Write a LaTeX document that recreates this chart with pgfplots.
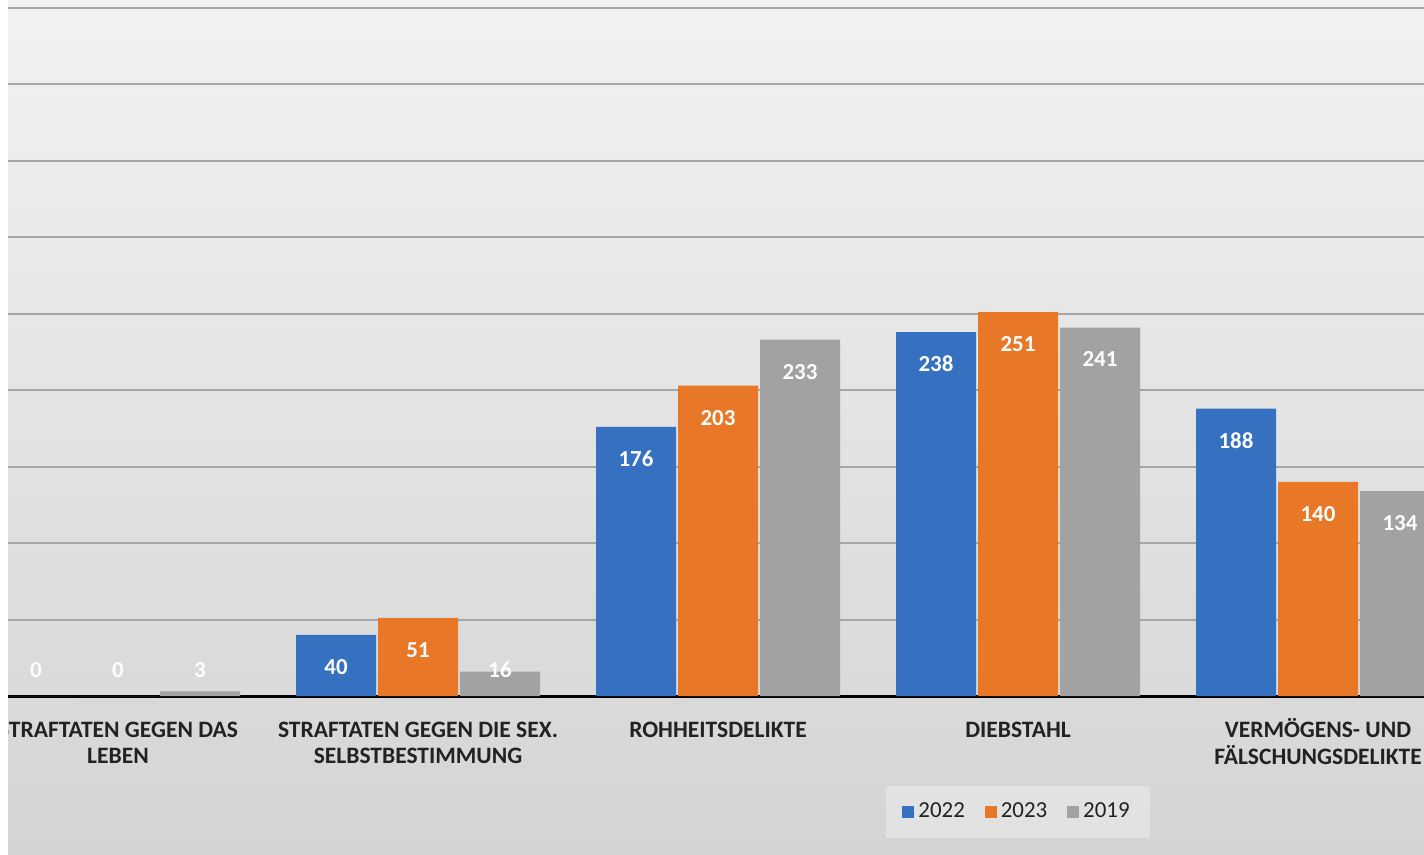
\documentclass[border=0pt]{standalone}
\usepackage{pgfplots}
\pgfplotsset{compat=1.18}
\usepackage{fontspec}
\setmainfont{Carlito}
\definecolor{cblue}{HTML}{3670C0}
\definecolor{corange}{HTML}{E87828}
\definecolor{cgray}{HTML}{A2A2A2}
\definecolor{ctext}{HTML}{222222}
\definecolor{cgrid}{HTML}{A6A6A6}
\definecolor{bgtop}{HTML}{F2F2F2}
\definecolor{bgbot}{HTML}{D4D4D4}
\definecolor{legbg}{HTML}{E2E2E2}
\newcommand\tl{\rule{0pt}{9.5bp}}
\pgfplotsset{
  mybar/.style={fill=#1, draw=none,
    legend image code/.code={\fill[#1] (0bp,-3bp) rectangle (6bp,3bp);}},
}
\begin{document}
\begin{tikzpicture}
\shade[top color=bgtop, bottom color=bgbot] (0,-79.5bp) rectangle (708bp,348bp);
\begin{axis}[
  at={(0,0)}, anchor=south west,
  scale only axis, width=708bp, height=348bp,
  xmin=-0.3667, xmax=4.3533, ymin=0, ymax=455.2,
  enlargelimits=false,
  ybar=1bp, bar width=40bp,
  axis x line*=bottom, axis y line*=left,
  x axis line style={black, line width=1.5bp, -},
  y axis line style={draw=none},
  ytick={50,100,...,450}, yticklabels={},
  ymajorgrids, grid style={cgrid, line width=1bp},
  major tick length=0pt,
  xtick={0,1,2,3,4},
  xticklabels={{\tl STRAFTATEN GEGEN DAS\\LEBEN},{\tl STRAFTATEN GEGEN DIE SEX.\\SELBSTBESTIMMUNG},{\tl ROHHEITSDELIKTE},{\tl DIEBSTAHL},{\tl VERMÖGENS- UND\\FÄLSCHUNGSDELIKTE}},
  xticklabel style={align=center, font=\bfseries\fontsize{11.8}{13.5}\selectfont, text=ctext, anchor=north, yshift=-7.5bp},
  /pgf/number format/assume math mode=true,
  visualization depends on={y \as \rawy},
  nodes near coords,
  every node near coord/.append style={font=\bfseries\fontsize{11.5}{12}\selectfont, text=white, anchor=center,
     yshift={(max(\rawy-20.9,17)-\rawy)*0.7676pt}},
  legend columns=3,
  legend style={at={(0.7133,0)}, anchor=center, yshift=-58bp, fill=legbg, draw=none,
     font=\fontsize{11.5}{13}\selectfont, text=ctext, inner xsep=8bp, inner ysep=6.5bp,
     /tikz/every even column/.append style={column sep=8bp}},
]
\addplot[mybar=cblue] coordinates {(0,0) (1,40) (2,176) (3,238) (4,188)};
\addplot[mybar=corange] coordinates {(0,0) (1,51) (2,203) (3,251) (4,140)};
\addplot[mybar=cgray] coordinates {(0,3) (1,16) (2,233) (3,241) (4,134)};
\legend{2022,2023,2019}
\end{axis}
\fill[white] (-4bp,-79.5bp) rectangle (0,348bp);
\pgfresetboundingbox
\useasboundingbox (-4bp,-79.5bp) rectangle (708bp,348bp);
\end{tikzpicture}
\end{document}
